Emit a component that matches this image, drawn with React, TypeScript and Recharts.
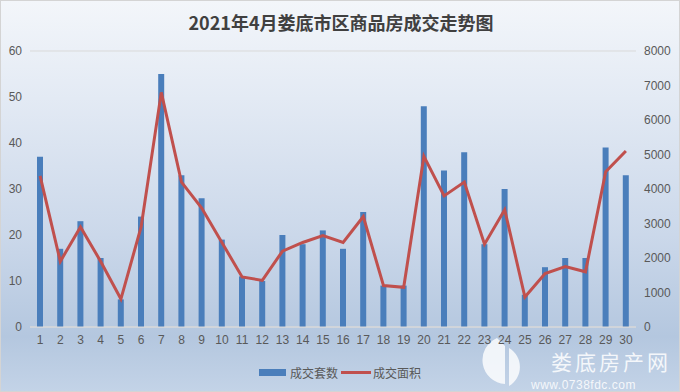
import React from "react";
import {
  ComposedChart,
  Bar,
  Line,
  XAxis,
  YAxis,
  CartesianGrid,
} from "recharts";

// data
const days = [
  "1", "2", "3", "4", "5", "6", "7", "8", "9", "10",
  "11", "12", "13", "14", "15", "16", "17", "18", "19", "20",
  "21", "22", "23", "24", "25", "26", "27", "28", "29", "30",
];
const units = [
  37, 17, 23, 15, 6, 24, 55, 33, 28, 19,
  11, 10, 20, 18, 21, 17, 25, 9, 9, 48,
  34, 38, 18, 30, 7, 13, 15, 15, 39, 33,
];
const area = [
  4380, 1900, 2900, 1900, 810, 2900, 6800, 4200, 3450, 2450,
  1450, 1350, 2200, 2450, 2650, 2450, 3200, 1200, 1150, 4950,
  3800, 4200, 2400, 3400, 870, 1550, 1750, 1600, 4500, 5100,
];
const leftTicks = [0, 10, 20, 30, 40, 50, 60];
const rightTicks = [0, 1000, 2000, 3000, 4000, 5000, 6000, 7000, 8000];

const title = "2021年4月娄底市区商品房成交走势图";
const barName = "成交套数";
const lineName = "成交面积";

const BAR_COLOR = "#4a7ebb";
const LINE_COLOR = "#c0504d";
const TEXT = "#595959";

const data = days.map((d, i) => ({ day: d, units: units[i], area: area[i] }));

const tickStyle = { fill: TEXT, fontSize: 12, fontFamily: "Liberation Sans, Arial, sans-serif" };

export default function App() {
  return (
    <div
      style={{
        position: "absolute",
        left: 0,
        top: 0,
        width: 680,
        height: 392,
        boxSizing: "border-box",
        border: "1px solid #d4d4d4",
        background:
          "linear-gradient(to bottom, #f3f6fa 0%, #e3eaf4 25%, #cbd8ea 60%, #b4c7df 86%, #c3d3e7 100%)",
        overflow: "hidden",
      }}
    >
      <div
        style={{
          position: "absolute",
          top: 8,
          left: 0,
          width: 680,
          textAlign: "center",
          fontFamily: "'Noto Sans CJK SC', sans-serif",
          fontWeight: 700,
          fontSize: 18,
          color: "#404040",
        }}
      >
        {title}
      </div>

      {/* watermark logo (behind the chart) */}
      <svg
        width={60}
        height={56}
        style={{ position: "absolute", left: 474, top: 333 }}
      >
        <path
          d="M22 4 L30 12 L30 50 A24 24 0 0 1 22 4 Z M34 14 A22 22 0 0 1 34 52 Z"
          fill="rgba(255,255,255,0.8)"
        />
      </svg>

      <div style={{ position: "absolute", left: -1, top: -1 }}>
        <ComposedChart
          width={680}
          height={392}
          data={data}
          margin={{ top: 51, right: 0, left: 0, bottom: 43 }}
        >
          <CartesianGrid vertical={false} stroke="#d9d9d9" />
          <XAxis
            dataKey="day"
            tickLine={false}
            axisLine={{ stroke: "#d9d9d9" }}
            tick={tickStyle}
            interval={0}
            height={22}
          />
          <YAxis
            yAxisId="left"
            domain={[0, 60]}
            ticks={leftTicks}
            width={30}
            tickLine={false}
            axisLine={false}
            tick={tickStyle}
          />
          <YAxis
            yAxisId="right"
            orientation="right"
            domain={[0, 8000]}
            ticks={rightTicks}
            width={44}
            tickLine={false}
            axisLine={false}
            tick={{ ...tickStyle, textAnchor: "start" }}
          />
          <Bar
            yAxisId="left"
            dataKey="units"
            name={barName}
            fill={BAR_COLOR}
            barSize={6}
            isAnimationActive={false}
          />
          <Line
            yAxisId="right"
            dataKey="area"
            name={lineName}
            type="linear"
            stroke={LINE_COLOR}
            strokeWidth={3}
            dot={false}
            isAnimationActive={false}
          />
        </ComposedChart>
      </div>

      {/* legend */}
      <div
        style={{
          position: "absolute",
          top: 363,
          left: 258,
          display: "flex",
          alignItems: "center",
          fontFamily: "'Noto Sans CJK SC', serif",
          fontSize: 12,
          color: TEXT,
        }}
      >
        <span style={{ width: 27, height: 7, background: BAR_COLOR, display: "inline-block" }} />
        <span style={{ marginLeft: 4, marginRight: 3 }}>{barName}</span>
        <span style={{ width: 30, height: 3, background: LINE_COLOR, display: "inline-block" }} />
        <span style={{ marginLeft: 2 }}>{lineName}</span>
      </div>

      {/* watermark text */}
      <div
        style={{
          position: "absolute",
          left: 550,
          top: 350,
          fontFamily: "'Noto Sans CJK SC', serif",
          fontSize: 21,
          lineHeight: "21px",
          color: "rgba(255,255,255,0.85)",
          letterSpacing: 3,
        }}
      >
        娄底房产网
      </div>
      <div
        style={{
          position: "absolute",
          left: 530,
          top: 378,
          fontFamily: "Liberation Sans, Arial, sans-serif",
          fontSize: 12,
          lineHeight: "12px",
          color: "rgba(255,255,255,0.85)",
          letterSpacing: 0.5,
        }}
      >
        www.0738fdc.com
      </div>
    </div>
  );
}
